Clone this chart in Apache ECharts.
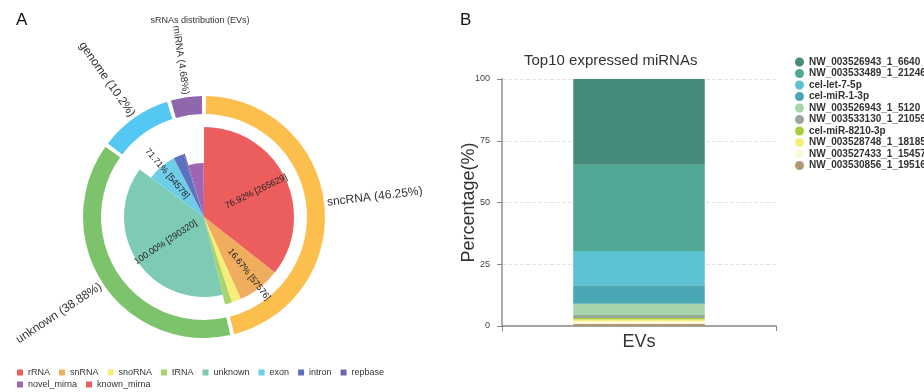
<!DOCTYPE html>
<html><head><meta charset="utf-8">
<script src="https://cdn.jsdelivr.net/npm/echarts@6/dist/echarts.min.js"></script>
<style>html,body{margin:0;padding:0;background:#fff}#c{width:924px;height:392px}</style>
</head><body><div id="c"></div>
<script>
// ---------- Panel A data ----------
const groupNames = ['sncRNA', 'unknown', 'genome', 'miRNA'];
const groupPercents = [46.25, 38.88, 10.2, 4.68];
const subNames = [
  ['rRNA', 'snRNA', 'snoRNA', 'tRNA'],
  ['unknown'],
  ['exon', 'intron', 'repbase'],
  ['novel_mirna', 'known_mirna']
];
const subValues = [
  [265629, 57576, 12800, 9347],
  [290320],
  [54578, 19000, 2531],
  [34000, 946]
];
const pieLegendNames = ['rRNA', 'snRNA', 'snoRNA', 'tRNA', 'unknown', 'exon', 'intron', 'repbase', 'novel_mirna', 'known_mirna'];

// ---------- Panel B data ----------
const barCategories = ['EVs'];
const mirnaNames = ['NW_003526943_1_6640', 'NW_003533489_1_21246', 'cel-let-7-5p', 'cel-miR-1-3p',
  'NW_003526943_1_5120', 'NW_003533130_1_21059', 'cel-miR-8210-3p', 'NW_003528748_1_18185',
  'NW_003527433_1_15457', 'NW_003530856_1_19516'];
const mirnaPercents = [34.7, 34.9, 13.9, 7.5, 4.5, 1.3, 0.6, 0.7, 1.1, 0.8];
const yTicks = [0, 25, 50, 75, 100];

// ---------- styles ----------
const innerColors = {
  rRNA: '#ec5e5e', snRNA: '#f1ad5e', snoRNA: '#f6ee79', tRNA: '#a9d36c', unknown: '#7dcbb4',
  exon: '#6fcde8', intron: '#5b71be', repbase: '#7163ad', novel_mirna: '#a065b2', known_mirna: '#ec5e5e'
};
const outerColors = ['#fcbe4c', '#7dc36c', '#54c8f2', '#8e67ad'];
const outerFont = { sncRNA: 12, unknown: 12, genome: 12, miRNA: 10 };
const innerRadii = [90, 80, 66, 54];
const labelPad = { rRNA: [0, 0, 0, 20], snRNA: [0, 0, 0, 50], unknown: [0, 6, 0, 0], exon: [0, 42, 0, 0] };
const barColors = ['#458a7b', '#50a795', '#5ac2d0', '#4aa6b5', '#a6d5ab', '#97a89a', '#a9cd39', '#f5ef78', '#fcf8dc', '#b09872'];
const CENTER = [204, 217];

const sum = a => a.reduce((s, v) => s + v, 0);
const total = sum(subValues.map(sum));

const series = [];
let cum = 0;
subNames.forEach((names, g) => {
  const gSum = sum(subValues[g]);
  const filler = (v) => ({ name: '', value: v, itemStyle: { color: 'rgba(0,0,0,0)' }, label: { show: false }, emphasis: { disabled: true } });
  const data = [];
  if (cum > 0) data.push(filler(cum));
  names.forEach((n, i) => {
    const item = { name: n, value: subValues[g][i], itemStyle: { color: innerColors[n] } };
    if (labelPad[n]) item.label = { padding: labelPad[n] };
    data.push(item);
  });
  const after = total - cum - gSum;
  if (after > 0) data.push(filler(after));
  cum += gSum;
  series.push({
    type: 'pie', center: CENTER, radius: [0, innerRadii[g]], startAngle: 90, clockwise: true,
    avoidLabelOverlap: false, minShowLabelAngle: 20, silent: true, animation: false,
    label: {
      position: 'inside', rotate: 'radial', fontSize: 9, color: '#222',
      formatter: p => (p.value / gSum * 100).toFixed(2) + '% [' + p.value + ']'
    },
    labelLine: { show: false },
    data
  });
});

series.push({
  type: 'pie', center: CENTER, radius: [103, 121], startAngle: 90, clockwise: true, padAngle: 2,
  avoidLabelOverlap: false, silent: true, animation: false,
  label: { position: 'outside', rotate: 'radial', fontSize: 12, color: '#333', distanceToLabelLine: 0,
    formatter: p => p.name + ' (' + p.value + '%)' },
  labelLine: { show: false, length: 3, length2: 0 },
  data: groupNames.map((n, i) => ({ name: n, value: groupPercents[i], itemStyle: { color: outerColors[i] },
    label: { fontSize: outerFont[n] } }))
});

// stacked bars: bottom-most series first
for (let i = mirnaNames.length - 1; i >= 0; i--) {
  series.push({
    type: 'bar', name: mirnaNames[i], stack: 'total', barWidth: '48%', xAxisIndex: 0, yAxisIndex: 0,
    itemStyle: { color: barColors[i] }, animation: false,
    data: barCategories.map(() => mirnaPercents[i])
  });
}

const chart = echarts.init(document.getElementById('c'), null, { renderer: 'canvas' });
chart.setOption({
  backgroundColor: '#fff',
  animation: false,
  title: [
    { text: 'A', left: 11, top: 7, textStyle: { fontSize: 17, fontWeight: 'normal', color: '#111' } },
    { text: 'sRNAs distribution (EVs)', left: 195, top: 11, textAlign: 'center', textStyle: { fontSize: 9, fontWeight: 'normal', color: '#333' } },
    { text: 'B', left: 455, top: 7, textStyle: { fontSize: 17, fontWeight: 'normal', color: '#111' } },
    { text: 'Top10 expressed miRNAs', left: 519, top: 48, textStyle: { fontSize: 15, fontWeight: 'normal', color: '#333' } }
  ],
  legend: [
    {
      data: pieLegendNames, left: 17, top: 368, width: 420, padding: 0, itemGap: 3,
      icon: 'rect', itemWidth: 6, itemHeight: 6,
      textStyle: { fontSize: 9, lineHeight: 9, color: '#333', padding: [0, 6, 0, 0] }
    },
    {
      data: mirnaNames, orient: 'vertical', left: 795, top: 57, padding: 0, itemGap: 1.5,
      icon: 'circle', itemWidth: 9, itemHeight: 9,
      textStyle: { fontSize: 10, fontWeight: 'bold', lineHeight: 10, color: '#333' }
    }
  ],
  grid: { left: 502, right: 148, top: 79, bottom: 66 },
  xAxis: {
    type: 'category', data: barCategories,
    axisLine: { lineStyle: { color: '#888', width: 1.5 } },
    axisTick: { show: true, length: 5, lineStyle: { color: '#888' } },
    axisLabel: { fontSize: 18, color: '#333', margin: 7 }
  },
  yAxis: {
    type: 'value', min: yTicks[0], max: yTicks[yTicks.length - 1], interval: yTicks[1] - yTicks[0],
    name: 'Percentage(%)', nameLocation: 'middle', nameGap: 24, nameMoveOverlap: false,
    nameTextStyle: { fontSize: 18, color: '#333' },
    axisLine: { show: true, lineStyle: { color: '#aaa', width: 2 } },
    axisTick: { show: true, length: 5, lineStyle: { color: '#888' } },
    axisLabel: { fontSize: 9, color: '#444', margin: 12 },
    splitLine: { lineStyle: { type: 'dashed', color: '#e3e3e3' } }
  },
  series
});
</script>
</body></html>
